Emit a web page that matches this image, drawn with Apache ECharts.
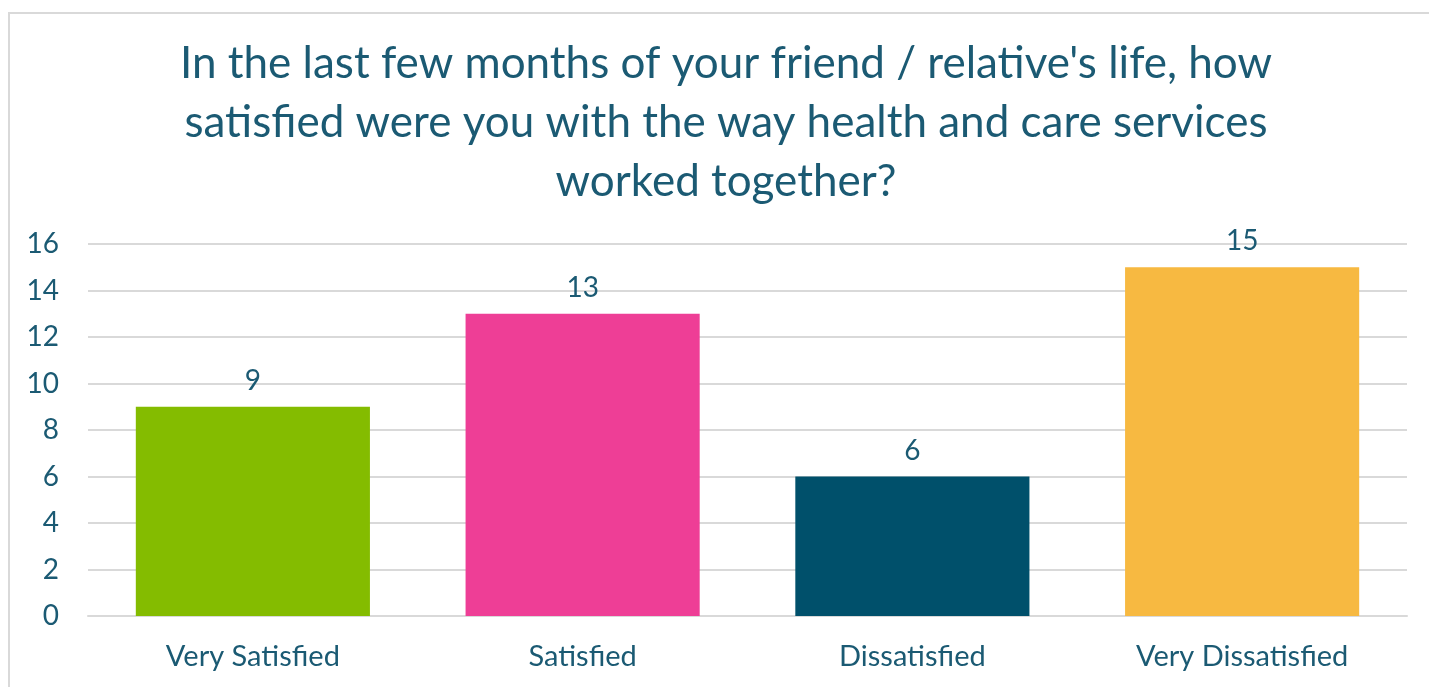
<!DOCTYPE html>
<html>
<head>
<meta charset="utf-8">
<script src="https://cdn.jsdelivr.net/npm/echarts@6/dist/echarts.min.js"></script>
<style>
  html, body { margin: 0; padding: 0; background: #fff; }
  #frame { position: absolute; left: 8px; top: 12px; width: 1440px; height: 700px; border: 2px solid #d9d9d9; box-sizing: border-box; }
  #main { position: absolute; left: 0; top: 0; width: 1429px; height: 687px; }
</style>
</head>
<body>
<div id="frame"></div>
<div id="main"></div>
<script>
var categories = ["Very Satisfied", "Satisfied", "Dissatisfied", "Very Dissatisfied"];
var counts = [9, 13, 6, 15];
var barColors = ["#84bc00", "#ee3e96", "#00506b", "#f7b941"];

var textColor = "#1b5a73";
var fontName = "Lato, 'Open Sans', sans-serif";

var myChart = echarts.init(document.getElementById("main"));

myChart.setOption({
  backgroundColor: "transparent",
  title: {
    text: "In the last few months of your friend / relative's life, how\nsatisfied were you with the way health and care services\nworked together?",
    left: 721,
    textAlign: "center",
    top: 29,
    textStyle: {
      color: textColor,
      fontFamily: fontName,
      fontWeight: "normal",
      fontSize: 44,
      lineHeight: 59
    }
  },
  grid: {
    left: 88,
    right: 22,
    top: 244,
    bottom: 71
  },
  xAxis: {
    type: "category",
    data: categories,
    axisLine: { show: true, lineStyle: { color: "#d9d9d9", width: 2 } },
    axisTick: { show: false },
    axisLabel: {
      color: textColor,
      fontFamily: fontName,
      fontSize: 29,
      margin: 26
    }
  },
  yAxis: {
    type: "value",
    min: 0,
    max: 16,
    interval: 2,
    axisLine: { show: false },
    axisTick: { show: false },
    splitLine: { lineStyle: { color: "#d9d9d9", width: 2 } },
    axisLabel: {
      color: textColor,
      fontFamily: fontName,
      fontSize: 28,
      margin: 29
    }
  },
  series: [
    {
      type: "bar",
      barWidth: "71%",
      data: counts.map(function(v, i) {
        return { value: v, itemStyle: { color: barColors[i] } };
      }),
      label: {
        show: true,
        position: "top",
        distance: 12,
        color: textColor,
        fontFamily: fontName,
        fontSize: 28
      }
    }
  ]
});
</script>
</body>
</html>
